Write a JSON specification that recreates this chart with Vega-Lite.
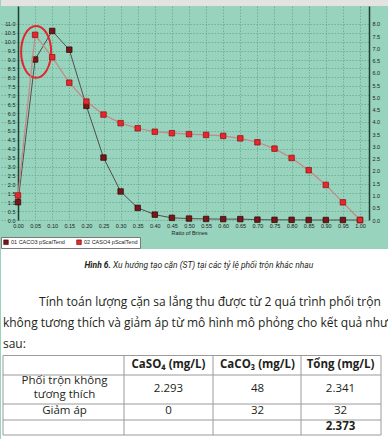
{
  "$schema": "https://vega.github.io/schema/vega-lite/v6.json",
  "background": "#97d3bd",
  "padding": 0,
  "spacing": 0,
  "columns": 1,
  "align": "none",
  "resolve": {"scale": {"color": "independent"}, "legend": {"color": "independent"}},
  "config": {
    "view": {"stroke": null},
    "font": "Liberation Sans",
    "legend": {
      "orient": "bottom",
      "direction": "horizontal",
      "fillColor": "white",
      "strokeColor": "#7a7a7a",
      "padding": 2,
      "offset": 1,
      "labelFontSize": 5.5,
      "labelColor": "#222222",
      "labelOffset": 2,
      "symbolType": "square",
      "symbolSize": 22,
      "symbolStrokeColor": "#330000",
      "symbolStrokeWidth": 0.5,
      "columnPadding": 10
    }
  },
  "datasets": {
    "scal": [
      {"ratio": 0.00, "value": 1.0, "series": "01 CACO3 pScalTend"},
      {"ratio": 0.05, "value": 9.0, "series": "01 CACO3 pScalTend"},
      {"ratio": 0.10, "value": 10.6, "series": "01 CACO3 pScalTend"},
      {"ratio": 0.15, "value": 9.55, "series": "01 CACO3 pScalTend"},
      {"ratio": 0.20, "value": 6.4, "series": "01 CACO3 pScalTend"},
      {"ratio": 0.25, "value": 3.5, "series": "01 CACO3 pScalTend"},
      {"ratio": 0.30, "value": 1.6, "series": "01 CACO3 pScalTend"},
      {"ratio": 0.35, "value": 0.68, "series": "01 CACO3 pScalTend"},
      {"ratio": 0.40, "value": 0.3, "series": "01 CACO3 pScalTend"},
      {"ratio": 0.45, "value": 0.12, "series": "01 CACO3 pScalTend"},
      {"ratio": 0.50, "value": 0.08, "series": "01 CACO3 pScalTend"},
      {"ratio": 0.55, "value": 0.06, "series": "01 CACO3 pScalTend"},
      {"ratio": 0.60, "value": 0.05, "series": "01 CACO3 pScalTend"},
      {"ratio": 0.65, "value": 0.05, "series": "01 CACO3 pScalTend"},
      {"ratio": 0.70, "value": 0.02, "series": "01 CACO3 pScalTend"},
      {"ratio": 0.75, "value": 0.01, "series": "01 CACO3 pScalTend"},
      {"ratio": 0.80, "value": 0.01, "series": "01 CACO3 pScalTend"},
      {"ratio": 0.85, "value": 0.0, "series": "01 CACO3 pScalTend"},
      {"ratio": 0.90, "value": 0.0, "series": "01 CACO3 pScalTend"},
      {"ratio": 0.95, "value": 0.0, "series": "01 CACO3 pScalTend"},
      {"ratio": 1.00, "value": 0.0, "series": "01 CACO3 pScalTend"},
      {"ratio": 0.00, "value": 1.0, "series": "02 CASO4 pScalTend"},
      {"ratio": 0.05, "value": 7.55, "series": "02 CASO4 pScalTend"},
      {"ratio": 0.10, "value": 6.64, "series": "02 CASO4 pScalTend"},
      {"ratio": 0.15, "value": 5.6, "series": "02 CASO4 pScalTend"},
      {"ratio": 0.20, "value": 4.83, "series": "02 CASO4 pScalTend"},
      {"ratio": 0.25, "value": 4.3, "series": "02 CASO4 pScalTend"},
      {"ratio": 0.30, "value": 3.95, "series": "02 CASO4 pScalTend"},
      {"ratio": 0.35, "value": 3.74, "series": "02 CASO4 pScalTend"},
      {"ratio": 0.40, "value": 3.6, "series": "02 CASO4 pScalTend"},
      {"ratio": 0.45, "value": 3.54, "series": "02 CASO4 pScalTend"},
      {"ratio": 0.50, "value": 3.5, "series": "02 CASO4 pScalTend"},
      {"ratio": 0.55, "value": 3.47, "series": "02 CASO4 pScalTend"},
      {"ratio": 0.60, "value": 3.43, "series": "02 CASO4 pScalTend"},
      {"ratio": 0.65, "value": 3.33, "series": "02 CASO4 pScalTend"},
      {"ratio": 0.70, "value": 3.17, "series": "02 CASO4 pScalTend"},
      {"ratio": 0.75, "value": 2.91, "series": "02 CASO4 pScalTend"},
      {"ratio": 0.80, "value": 2.53, "series": "02 CASO4 pScalTend"},
      {"ratio": 0.85, "value": 2.03, "series": "02 CASO4 pScalTend"},
      {"ratio": 0.90, "value": 1.43, "series": "02 CASO4 pScalTend"},
      {"ratio": 0.95, "value": 0.72, "series": "02 CASO4 pScalTend"},
      {"ratio": 1.00, "value": 0.0, "series": "02 CASO4 pScalTend"}
    ],
    "circle": [{"ratio": 0.053, "value": 9.43}],
    "lines": [
      {"line": 0, "kind": "capB", "text": "Hình 6."},
      {"line": 0, "kind": "capR", "text": "Xu hướng tạo cặn (ST) tại các tỷ lệ phối trộn khác nhau"},
      {"line": 1, "kind": "first", "text": "Tính toán lượng cặn sa lắng thu được từ 2 quá trình phối trộn"},
      {"line": 2, "kind": "body", "text": "không tương thích và giảm áp từ mô hình mô phỏng cho kết quả như"},
      {"line": 3, "kind": "body", "text": "sau:"}
    ],
    "cells": [
      {"row": 0, "col": 1, "text": "CaSO₄ (mg/L)"},
      {"row": 0, "col": 2, "text": "CaCO₃ (mg/L)"},
      {"row": 0, "col": 3, "text": "Tổng (mg/L)"},
      {"row": 1, "col": 1, "text": "2.293"},
      {"row": 1, "col": 2, "text": "48"},
      {"row": 1, "col": 3, "text": "2.341"},
      {"row": 2, "col": 0, "text": "Giảm áp"},
      {"row": 2, "col": 1, "text": "0"},
      {"row": 2, "col": 2, "text": "32"},
      {"row": 2, "col": 3, "text": "32"},
      {"row": 3, "col": 3, "text": "2.373"}
    ],
    "labelLines": [
      {"sub": 0, "col": 0, "text": "Phối trộn không"},
      {"sub": 1, "col": 0, "text": "tương thích"}
    ],
    "bounds": [{"b": 0}, {"b": 1}, {"b": 2}, {"b": 3}, {"b": 4}]
  },
  "concat": [
    {
      "width": 388,
      "height": 6,
      "view": {"fill": "#e3e3e3", "stroke": null},
      "data": {"values": []},
      "mark": "rule",
      "encoding": {}
    },
    {
      "width": 368,
      "height": 214,
      "view": {"fill": "#97d3bd", "stroke": null},
      "data": {"name": "scal"},
      "encoding": {
        "x": {
          "field": "ratio",
          "type": "quantitative",
          "scale": {"domain": [-0.04971, 1.02632], "nice": false, "zero": false},
          "axis": {
            "values": [0, 0.05, 0.1, 0.15, 0.2, 0.25, 0.3, 0.35, 0.4, 0.45, 0.5, 0.55, 0.6, 0.65, 0.7, 0.75, 0.8, 0.85, 0.9, 0.95, 1],
            "format": ".2f",
            "labelFontSize": 5.5,
            "labelColor": "#222222",
            "labelPadding": 3,
            "labelFlush": false,
            "labelOverlap": false,
            "labelBound": false,
            "ticks": false,
            "domain": false,
            "grid": true,
            "gridColor": "#67a891",
            "gridDash": [1.5, 1.5],
            "gridWidth": 0.8,
            "title": "Ratio of Brines",
            "titleFontSize": 5.5,
            "titleFontWeight": "normal",
            "titleColor": "#222222",
            "titlePadding": 2,
            "titleX": 188
          }
        }
      },
      "layer": [
        {
          "encoding": {
            "y": {
              "field": "value",
              "type": "quantitative",
              "scale": {"domain": [0, 12], "nice": false},
              "axis": {
                "orient": "left",
                "offset": -17,
                "values": [0, 0.5, 1, 1.5, 2, 2.5, 3, 3.5, 4, 4.5, 5, 5.5, 6, 6.5, 7, 7.5, 8, 8.5, 9, 9.5, 10, 10.5, 11],
                "format": ".1f",
                "labelFontSize": 5.5,
                "labelColor": "#222222",
                "labelPadding": 3,
                "labelOverlap": false,
                "ticks": false,
                "title": null,
                "grid": true,
                "gridColor": "#67a891",
                "gridDash": [1.5, 1.5],
                "gridWidth": 0.8,
                "domainColor": "#1f3f35",
                "domainWidth": 1.5
              }
            }
          },
          "layer": [
            {
              "data": {"values": [{"base": 0}]},
              "mark": {"type": "rule", "color": "#1f3f35", "strokeWidth": 1.5},
              "encoding": {
                "y": {"field": "base", "type": "quantitative"},
                "x": {"datum": 0},
                "x2": {"datum": 1.02632}
              }
            },
            {
              "transform": [{"filter": "datum.series === '01 CACO3 pScalTend'"}],
              "mark": {"type": "line", "color": "#505050", "strokeWidth": 1}
            },
            {
              "transform": [{"filter": "datum.series === '01 CACO3 pScalTend'"}],
              "mark": {"type": "point", "shape": "square", "filled": true, "size": 30, "stroke": "#2a0505", "strokeWidth": 0.7, "opacity": 1},
              "encoding": {
                "color": {
                  "field": "series",
                  "type": "nominal",
                  "scale": {"domain": ["01 CACO3 pScalTend", "02 CASO4 pScalTend"], "range": ["#7a1616", "#e8262b"]},
                  "legend": {"title": null}
                }
              }
            },
            {
              "data": {"name": "circle"},
              "mark": {"type": "point", "shape": "M -1 0 A 1 1.73 0 1 0 1 0 A 1 1.73 0 1 0 -1 0 Z", "size": 900, "filled": false, "stroke": "#e3262b", "strokeWidth": 2, "opacity": 1}
            }
          ]
        },
        {
          "transform": [{"filter": "datum.series === '02 CASO4 pScalTend'"}],
          "encoding": {
            "y": {
              "field": "value",
              "type": "quantitative",
              "scale": {"domain": [0, 8.727], "nice": false},
              "axis": {
                "orient": "right",
                "values": [0, 0.5, 1, 1.5, 2, 2.5, 3, 3.5, 4, 4.5, 5, 5.5, 6, 6.5, 7, 7.5, 8],
                "format": ".1f",
                "labelFontSize": 5.5,
                "labelColor": "#222222",
                "labelPadding": 3,
                "labelOverlap": false,
                "ticks": false,
                "title": null,
                "grid": false,
                "domainColor": "#1f3f35",
                "domainWidth": 1.5,
                "minExtent": 15,
                "maxExtent": 15
              }
            }
          },
          "layer": [
            {"mark": {"type": "line", "color": "#c98686", "strokeWidth": 1.2}},
            {
              "mark": {"type": "point", "shape": "square", "filled": true, "size": 30, "stroke": "#8a1010", "strokeWidth": 0.7, "opacity": 1},
              "encoding": {
                "color": {
                  "field": "series",
                  "type": "nominal",
                  "scale": {"domain": ["01 CACO3 pScalTend", "02 CASO4 pScalTend"], "range": ["#7a1616", "#e8262b"]},
                  "legend": {"title": null}
                }
              }
            }
          ]
        }
      ],
      "resolve": {"scale": {"y": "independent"}}
    },
    {
      "width": 388,
      "height": 106,
      "view": {"fill": "white", "stroke": null},
      "data": {"name": "lines"},
      "encoding": {
        "y": {"field": "line", "type": "quantitative", "scale": {"domain": [0, 1, 3], "range": [16, 53, 95]}, "axis": null}
      },
      "layer": [
        {
          "transform": [{"filter": "datum.kind === 'capB'"}],
          "mark": {"type": "text", "align": "right", "baseline": "middle", "font": "Liberation Sans Narrow, Roboto", "fontSize": 8.5, "fontStyle": "italic", "fontWeight": "bold", "color": "#231f20"},
          "encoding": {
            "x": {"datum": 0.2835, "type": "quantitative", "scale": {"domain": [0, 1], "nice": false}, "axis": null},
            "text": {"field": "text"}
          }
        },
        {
          "transform": [{"filter": "datum.kind === 'capR'"}],
          "mark": {"type": "text", "align": "left", "baseline": "middle", "font": "Liberation Sans Narrow, Roboto", "fontSize": 8.5, "fontStyle": "italic", "color": "#231f20"},
          "encoding": {
            "x": {"datum": 0.2885, "type": "quantitative", "scale": {"domain": [0, 1], "nice": false}, "axis": null},
            "text": {"field": "text"}
          }
        },
        {
          "transform": [{"filter": "datum.kind === 'first'"}],
          "mark": {"type": "text", "align": "right", "baseline": "middle", "font": "Open Sans", "fontSize": 12, "color": "#231f20"},
          "encoding": {
            "x": {"datum": 0.979, "type": "quantitative", "scale": {"domain": [0, 1], "nice": false}, "axis": null},
            "text": {"field": "text"}
          }
        },
        {
          "transform": [{"filter": "datum.kind === 'body'"}],
          "mark": {"type": "text", "align": "left", "baseline": "middle", "font": "Open Sans", "fontSize": 12, "color": "#231f20"},
          "encoding": {
            "x": {"datum": 0.005, "type": "quantitative", "scale": {"domain": [0, 1], "nice": false}, "axis": null},
            "text": {"field": "text"}
          }
        }
      ]
    },
    {
      "width": 388,
      "height": 86,
      "view": {"fill": "white", "stroke": null},
      "layer": [
        {
          "data": {"name": "bounds"},
          "mark": {"type": "rule", "color": "#9a9a9a", "strokeWidth": 1},
          "encoding": {
            "y": {"field": "b", "type": "quantitative", "scale": {"domain": [0, 1, 2, 3, 4], "range": [0.5, 20, 49, 65, 80]}, "axis": null},
            "x": {"datum": 0, "type": "quantitative", "scale": {"domain": [0, 1, 2, 3, 4], "range": [2, 123, 212, 300, 380]}, "axis": null},
            "x2": {"datum": 4}
          }
        },
        {
          "data": {"name": "bounds"},
          "mark": {"type": "rule", "color": "#9a9a9a", "strokeWidth": 1},
          "encoding": {
            "x": {"field": "b", "type": "quantitative", "scale": {"domain": [0, 1, 2, 3, 4], "range": [2, 123, 212, 300, 380]}, "axis": null},
            "y": {"datum": 0, "type": "quantitative", "scale": {"domain": [0, 1, 2, 3, 4], "range": [0.5, 20, 49, 65, 80]}, "axis": null},
            "y2": {"datum": 4}
          }
        },
        {
          "data": {"name": "cells"},
          "transform": [{"filter": "datum.row === 1 || datum.row === 2"}],
          "mark": {"type": "text", "align": "center", "baseline": "middle", "font": "Open Sans", "fontSize": 11.5, "color": "#231f20"},
          "encoding": {
            "x": {"field": "col", "type": "quantitative", "scale": {"domain": [0, 1, 2, 3], "range": [63.5, 167.5, 256.5, 339.5]}, "axis": null},
            "y": {"field": "row", "type": "quantitative", "scale": {"domain": [0, 1, 2, 3], "range": [10, 33.5, 56, 72]}, "axis": null},
            "text": {"field": "text"}
          }
        },
        {
          "data": {"name": "labelLines"},
          "mark": {"type": "text", "align": "center", "baseline": "middle", "font": "Open Sans", "fontSize": 11.5, "color": "#231f20"},
          "encoding": {
            "x": {"field": "col", "type": "quantitative", "scale": {"domain": [0, 1, 2, 3], "range": [63.5, 167.5, 256.5, 339.5]}, "axis": null},
            "y": {"field": "sub", "type": "quantitative", "scale": {"domain": [0, 1], "range": [26, 40]}, "axis": null},
            "text": {"field": "text"}
          }
        },
        {
          "data": {"name": "cells"},
          "transform": [{"filter": "datum.row === 0 || datum.row === 3"}],
          "mark": {"type": "text", "align": "center", "baseline": "middle", "font": "Open Sans", "fontSize": 11.5, "fontWeight": "bold", "color": "#231f20"},
          "encoding": {
            "x": {"field": "col", "type": "quantitative", "scale": {"domain": [0, 1, 2, 3], "range": [63.5, 167.5, 256.5, 339.5]}, "axis": null},
            "y": {"field": "row", "type": "quantitative", "scale": {"domain": [0, 1, 2, 3], "range": [10, 33.5, 56, 72]}, "axis": null},
            "text": {"field": "text"}
          }
        }
      ],
      "resolve": {"scale": {"x": "independent", "y": "independent"}}
    }
  ]
}
